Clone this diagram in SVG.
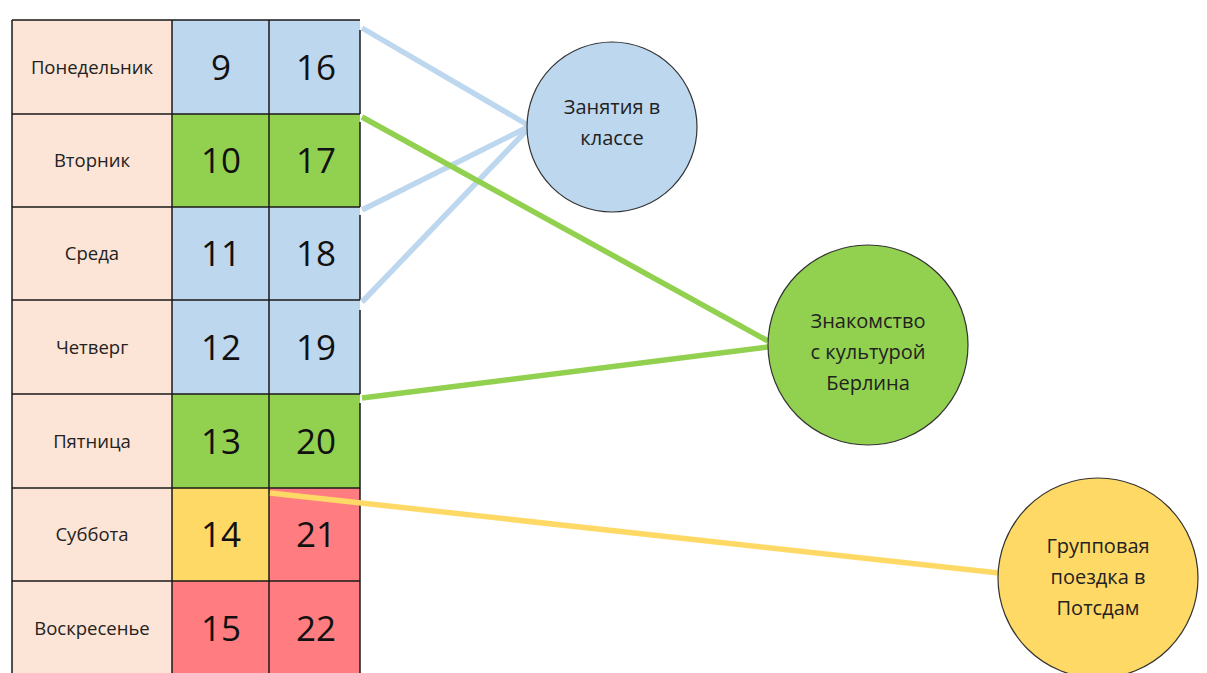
<svg xmlns="http://www.w3.org/2000/svg" width="1207" height="673" viewBox="0 0 1207 673">
<style>
.day{fill:#fce4d6}
.b{fill:#bdd7ee}
.g{fill:#92d050}
.y{fill:#ffd966}
.r{fill:#ff7c80}
.grid{stroke:#1a1a1a;stroke-width:1.5;fill:none}
.dl{font-family:"Open Sans","Noto Sans",sans-serif;font-size:18.5px;fill:#222;text-anchor:middle}
.num{font-family:"Open Sans","Noto Sans",sans-serif;font-size:35px;fill:#111;text-anchor:middle}
.ct{font-family:"Open Sans","Noto Sans",sans-serif;font-size:20px;fill:#222;text-anchor:middle}
.conn{stroke-width:5.5;fill:none;stroke-linecap:butt}
.circ{stroke:#333;stroke-width:1.2}
</style>
<rect width="1207" height="673" fill="#ffffff"/>
<g id="table">
<rect class="day" x="12" y="20" width="160" height="655"/>
<rect class="b" x="172" y="20" width="188" height="94"/>
<rect class="g" x="172" y="114" width="188" height="93"/>
<rect class="b" x="172" y="207" width="188" height="187"/>
<rect class="g" x="172" y="394" width="188" height="94"/>
<rect class="y" x="172" y="488" width="97" height="93"/>
<rect class="r" x="269" y="488" width="91" height="93"/>
<rect class="r" x="172" y="581" width="188" height="94"/>
<path class="grid" d="M12 20H360M12 114H360M12 207H360M12 300H360M12 394H360M12 488H360M12 581H360M12 20V675M172 20V675M269 20V675M360 30V114M360 122V207M360 215V300M360 310V394M360 403V675"/>
<text class="dl" x="92" y="74">Понедельник</text>
<text class="dl" x="92" y="167">Вторник</text>
<text class="dl" x="92" y="260">Среда</text>
<text class="dl" x="92" y="354">Четверг</text>
<text class="dl" x="92" y="448">Пятница</text>
<text class="dl" x="92" y="541">Суббота</text>
<text class="dl" x="92" y="635">Воскресенье</text>
<text class="num" x="221" y="80">9</text><text class="num" x="316" y="80">16</text>
<text class="num" x="221" y="173">10</text><text class="num" x="316" y="173">17</text>
<text class="num" x="221" y="266">11</text><text class="num" x="316" y="266">18</text>
<text class="num" x="221" y="360">12</text><text class="num" x="316" y="360">19</text>
<text class="num" x="221" y="454">13</text><text class="num" x="316" y="454">20</text>
<text class="num" x="221" y="547">14</text><text class="num" x="316" y="547">21</text>
<text class="num" x="221" y="641">15</text><text class="num" x="316" y="641">22</text>
</g>
<g id="connectors">
<line class="conn" stroke="#bdd7ee" x1="362" y1="28" x2="528" y2="125"/>
<line class="conn" stroke="#bdd7ee" x1="362" y1="210" x2="528" y2="127"/>
<line class="conn" stroke="#bdd7ee" x1="362" y1="302" x2="528" y2="129"/>
<line class="conn" stroke="#92d050" x1="362" y1="117" x2="768" y2="341"/>
<line class="conn" stroke="#92d050" x1="362" y1="398" x2="768" y2="347"/>
<line class="conn" stroke="#ffd966" x1="270" y1="493" x2="999" y2="573"/>
</g>
<g id="node-classes">
<circle class="circ" cx="612" cy="127" r="85" fill="#bdd7ee"/>
<text class="ct" x="612" y="114">Занятия в</text>
<text class="ct" x="612" y="145">классе</text>
</g>
<g id="node-culture">
<circle class="circ" cx="868" cy="345" r="100" fill="#92d050"/>
<text class="ct" x="868" y="328">Знакомство</text>
<text class="ct" x="868" y="359">с культурой</text>
<text class="ct" x="868" y="390">Берлина</text>
</g>
<g id="node-potsdam">
<circle class="circ" cx="1098" cy="578" r="100" fill="#ffd966"/>
<text class="ct" x="1098" y="553">Групповая</text>
<text class="ct" x="1098" y="584">поездка в</text>
<text class="ct" x="1098" y="615">Потсдам</text>
</g>
</svg>
